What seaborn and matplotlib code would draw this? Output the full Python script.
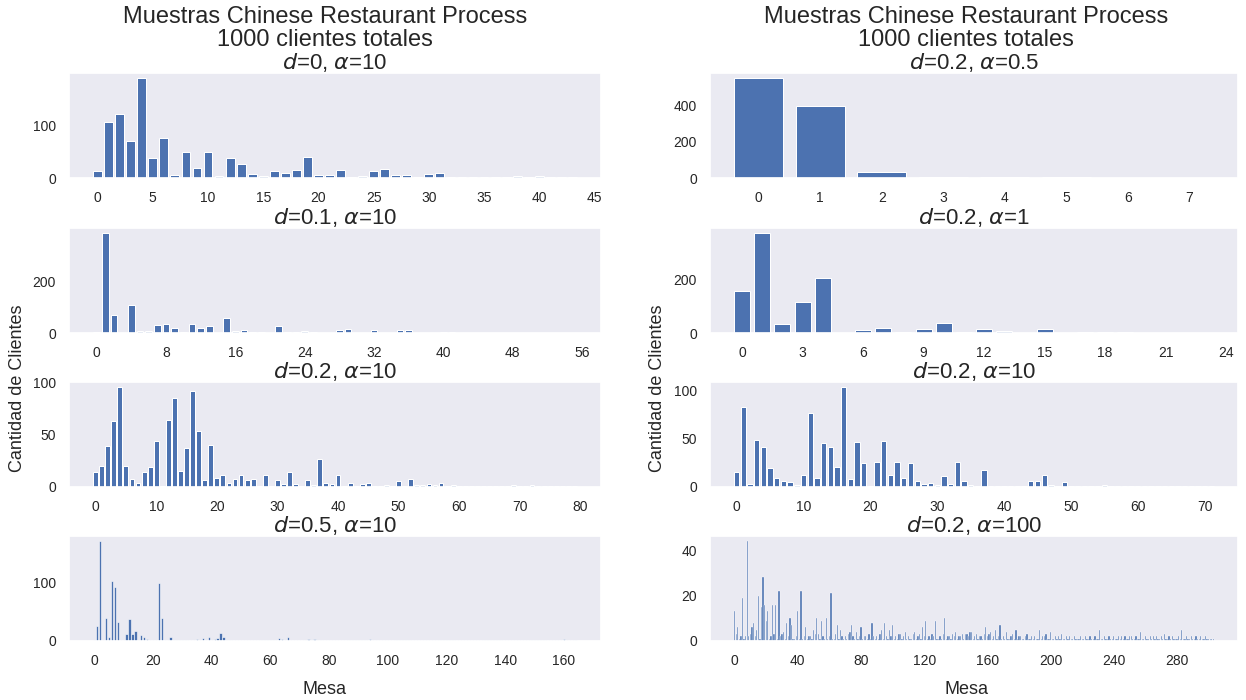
import numpy as np
import pandas as pd
import matplotlib
matplotlib.use("Agg")
import matplotlib.pyplot as plt
import seaborn as sns

sns.set_theme(style="dark")
plt.rcParams['font.family'] = ['Liberation Sans', 'DejaVu Sans']

# ---------------- data (customers per table) ----------------
d0_a10 = [13, 106, 121, 71, 190, 38, 76, 5, 49, 19,
          50, 3, 38, 26, 8, 3, 13, 10, 15, 40,
          5, 5, 15, 1, 3, 13, 17, 6, 5, 1,
          7, 10, 1, 1, 1, 1, 1, 1, 4, 1,
          3, 1, 1, 1]

d01_a10 = [2, 385, 68, 1, 108, 9, 9, 32, 36, 21,
           3, 36, 21, 26, 1, 56, 7, 10, 3, 3,
           1, 26, 3, 3, 7, 3, 1, 1, 10, 14,
           1, 1, 10, 1, 1, 10, 10, 1, 1, 1,
           3, 3, 1, 1, 1, 1, 1, 1, 1, 1,
           1, 1, 1, 1, 1, 1]

d02_a10_left = [14, 20, 39, 63, 96, 20, 8, 4, 14, 19,
                44, 1, 64, 85, 15, 37, 92, 54, 7, 40,
                9, 12, 4, 8, 12, 7, 8, 1, 12, 1,
                7, 3, 14, 3, 1, 7, 2, 27, 4, 3,
                12, 1, 4, 1, 3, 4, 1, 1, 2, 1,
                6, 1, 8, 2, 2, 3, 2, 4, 1, 2,
                1, 1, 1, 1, 1, 1, 1, 1, 1, 2,
                1, 1, 2, 1, 1, 1, 1, 1, 1, 1]

d05_a10 = [1, 26, 171, 1, 40, 6, 102, 93, 32, 2,
           2, 12, 37, 12, 17, 1, 11, 6, 4, 2,
           1, 2, 100, 39, 1, 1, 6, 1, 1, 1,
           1, 1, 1, 1, 1, 3, 1, 5, 1, 6,
           1, 3, 5, 13, 6, 1, 1, 1, 1, 1,
           1, 1, 1, 2, 1, 1, 1, 1, 2, 1,
           1, 1, 1, 5, 3, 1, 6, 1, 1, 1,
           1, 1, 1, 3, 1, 3, 1, 1, 2, 1,
           1, 1, 1, 1, 1, 1, 1, 1, 1, 1,
           1, 1, 1, 1, 3, 1, 1, 1, 1, 1,
           1, 1, 1, 1, 1, 1, 1, 2, 1, 1,
           1, 1, 1, 1, 1, 2, 1, 1, 1, 1,
           1, 1, 1, 1, 1, 1, 1, 1, 1, 1,
           1, 1, 1, 1, 1, 1, 2, 1, 1, 1,
           1, 1, 1, 1, 1, 1, 1, 1, 1, 1,
           1, 1, 1, 1, 1, 1, 1, 1, 1, 1,
           3, 1, 1, 1, 1]

d02_a05 = [555, 398, 32, 5, 3, 3, 2, 2]

d02_a1 = [157, 375, 35, 116, 207, 1, 11, 20, 3, 14,
          38, 3, 14, 7, 1, 14, 1, 3, 3, 3,
          1, 1, 1, 1]

d02_a10_right = [16, 83, 3, 49, 42, 20, 9, 6, 5, 2,
                 13, 77, 9, 46, 42, 21, 104, 8, 47, 25,
                 1, 26, 48, 12, 26, 9, 25, 6, 3, 4,
                 2, 11, 3, 26, 6, 2, 1, 18, 1, 1,
                 1, 1, 1, 1, 6, 6, 12, 2, 1, 5,
                 1, 1, 1, 1, 1, 2, 1, 1, 1, 1,
                 1, 1, 1, 1, 1, 1, 1, 1, 1, 1,
                 1, 1]

d02_a100 = [13, 3, 6, 1, 2, 19, 1, 2, 44, 2,
            3, 6, 8, 2, 5, 20, 1, 15, 28, 16,
            9, 13, 1, 2, 16, 3, 16, 1, 22, 2,
            3, 4, 1, 8, 2, 10, 7, 1, 1, 2,
            13, 1, 22, 1, 2, 6, 1, 2, 2, 1,
            5, 3, 10, 3, 1, 9, 2, 1, 10, 1,
            2, 21, 1, 1, 3, 7, 1, 5, 2, 1,
            2, 1, 3, 4, 7, 2, 1, 4, 1, 2,
            6, 1, 2, 2, 1, 3, 1, 8, 2, 1,
            2, 1, 3, 5, 1, 8, 2, 1, 5, 2,
            7, 1, 2, 1, 3, 3, 1, 2, 4, 1,
            2, 1, 1, 3, 4, 1, 2, 3, 1, 6,
            2, 9, 1, 2, 1, 3, 2, 9, 1, 1,
            2, 1, 3, 10, 1, 2, 2, 1, 3, 2,
            4, 1, 2, 2, 3, 1, 3, 3, 2, 4,
            4, 1, 2, 3, 1, 2, 2, 1, 3, 6,
            2, 3, 4, 1, 2, 5, 1, 2, 7, 1,
            2, 1, 4, 1, 1, 2, 3, 1, 5, 1,
            2, 2, 1, 1, 2, 3, 1, 1, 2, 1,
            2, 1, 1, 5, 1, 2, 2, 3, 1, 1,
            4, 1, 1, 2, 1, 2, 1, 3, 1, 1,
            2, 1, 2, 1, 1, 2, 1, 1, 1, 2,
            1, 1, 2, 1, 1, 2, 1, 1, 2, 1,
            1, 5, 1, 1, 2, 1, 1, 2, 1, 1,
            2, 1, 1, 2, 1, 2, 1, 2, 1, 1,
            2, 2, 1, 1, 2, 1, 1, 4, 1, 1,
            2, 1, 1, 2, 1, 2, 1, 2, 1, 1,
            2, 1, 3, 1, 1, 2, 1, 2, 1, 1,
            1, 2, 1, 5, 1, 1, 2, 1, 1, 2,
            1, 1, 2, 1, 1, 2, 1, 1, 2, 1,
            1, 1, 1, 1]

left_titles = [r"$d$=0, $\alpha$=10", r"$d$=0.1, $\alpha$=10",
               r"$d$=0.2, $\alpha$=10", r"$d$=0.5, $\alpha$=10"]
right_titles = [r"$d$=0.2, $\alpha$=0.5", r"$d$=0.2, $\alpha$=1",
                r"$d$=0.2, $\alpha$=10", r"$d$=0.2, $\alpha$=100"]

left_xticks = [list(range(0, 46, 5)), list(range(0, 57, 8)),
               list(range(0, 81, 10)), list(range(0, 161, 20))]
right_xticks = [list(range(0, 8, 1)), list(range(0, 25, 3)),
                list(range(0, 71, 10)), list(range(0, 281, 40))]
left_yticks = [[0, 100], [0, 200], [0, 50, 100], [0, 100]]
right_yticks = [[0, 200, 400], [0, 200], [0, 50, 100], [0, 20, 40]]

suptitle_text = "Muestras Chinese Restaurant Process\n1000 clientes totales"
ylabel_text = "Cantidad de Clientes"
xlabel_text = "Mesa"

left_data = [d0_a10, d01_a10, d02_a10_left, d05_a10]
right_data = [d02_a05, d02_a1, d02_a10_right, d02_a100]

# ---------------- layout ----------------
W, H = 1246, 700
fig = plt.figure(figsize=(W / 100, H / 100), dpi=100)

row_tops = [73, 228, 382, 536]
ax_h = 105
cols = [(69, 601), (710, 1238)]
bar_color = "#4C72B0"


def draw(ax, values, title, xt, yt, lw):
    df = pd.DataFrame({"Mesa": np.arange(len(values)), "Clientes": values})
    sns.barplot(data=df, x="Mesa", y="Clientes", native_scale=True,
                color=bar_color, saturation=1, errorbar=None,
                linewidth=lw, edgecolor="white", ax=ax)
    ax.set_xlabel("")
    ax.set_ylabel("")
    ax.set_title(title, fontsize=16, pad=3)
    ax.set_xticks(xt)
    ax.set_xticklabels([str(v) for v in xt])
    ax.set_yticks(yt)
    ax.set_yticklabels([str(v) for v in yt])
    ax.tick_params(labelsize=10, colors=".15")


for c, (data, titles, xts, yts) in enumerate([
        (left_data, left_titles, left_xticks, left_yticks),
        (right_data, right_titles, right_xticks, right_yticks)]):
    x0, x1 = cols[c]
    for r in range(4):
        top = row_tops[r]
        ax = fig.add_axes([x0 / W, 1 - (top + ax_h) / H, (x1 - x0) / W, ax_h / H])
        lw = 0.72 if len(data[r]) < 100 else (0.4 if len(data[r]) < 200 else 0.25)
        draw(ax, data[r], titles[r], xts[r], yts[r], lw)

for cx, ylx in [(325, 18), (966, 658)]:
    fig.text(cx / W, 1 - 6 / H, suptitle_text, ha="center", va="top",
             fontsize=17, color=".15", linespacing=1.05)
    fig.text(cx / W, 1 - 690 / H, xlabel_text, ha="center", va="center",
             fontsize=13, color=".15")
    fig.text(ylx / W, 1 - 388 / H, ylabel_text, ha="center", va="center",
             rotation=90, fontsize=13, color=".15")

fig.savefig("out.png", dpi=100)
